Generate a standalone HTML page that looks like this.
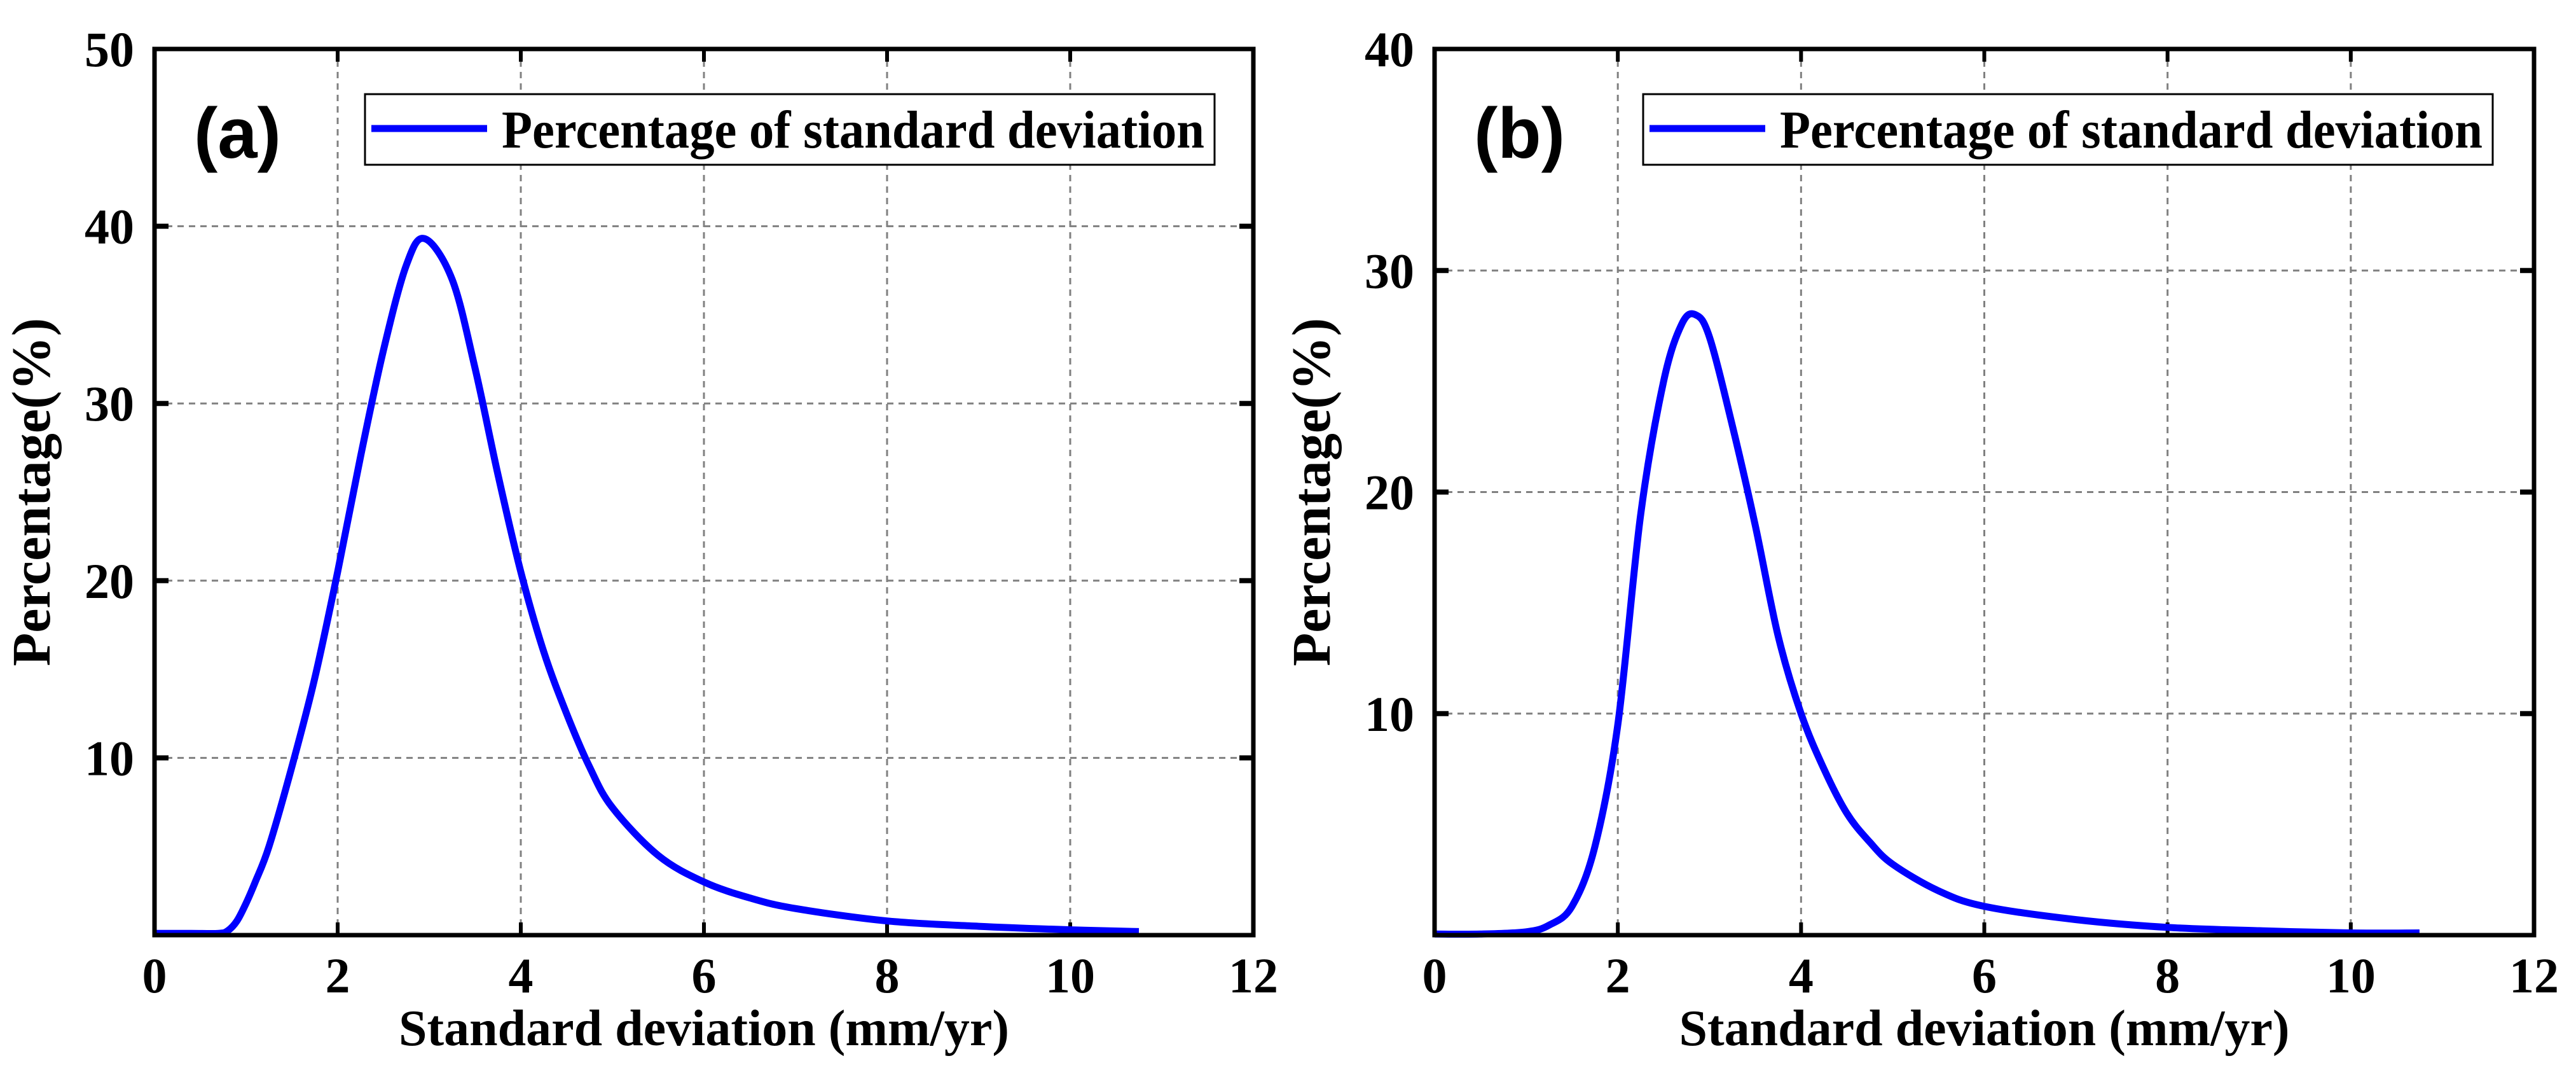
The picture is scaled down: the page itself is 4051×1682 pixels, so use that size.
<!DOCTYPE html>
<html><head><meta charset="utf-8"><style>
html,body{margin:0;padding:0;background:#fff;}
svg{display:block;}
text{font-family:"Liberation Serif",serif;font-weight:bold;fill:#000;}
.lab{font-family:"Liberation Sans",sans-serif;}
</style></head><body>
<svg id="chart" width="4051" height="1682" viewBox="0 0 4051 1682" xmlns="http://www.w3.org/2000/svg"></svg>
<script>
const xTicks = [0, 2, 4, 6, 8, 10, 12];
const yTicksA = [10, 20, 30, 40, 50];
const yTicksB = [10, 20, 30, 40];
const xsA = [0, 0.4, 0.7, 0.8, 0.9, 1, 1.1, 1.25, 1.5, 1.75, 2, 2.25, 2.5, 2.75, 2.95, 3.25, 3.5, 3.75, 4, 4.25, 4.5, 4.75, 5, 5.5, 6, 6.5, 7, 8, 9, 10, 10.75];
const ysA = [0.1, 0.1, 0.1, 0.25, 0.8, 1.8, 3, 5, 9.5, 14.5, 20.5, 27, 33, 37.8, 39.3, 37, 32, 26, 20.5, 16, 12.5, 9.5, 7.2, 4.5, 3, 2.1, 1.5, 0.8, 0.5, 0.3, 0.2];
const xsB = [0, 0.5, 1, 1.25, 1.5, 1.75, 2, 2.25, 2.5, 2.7, 2.85, 3, 3.25, 3.5, 3.75, 4, 4.25, 4.5, 4.75, 5, 5.5, 6, 7, 8, 9, 10, 10.75];
const ysB = [0.05, 0.05, 0.15, 0.45, 1.3, 4, 9.5, 19, 25, 27.6, 28, 27, 23, 18.5, 13.5, 10, 7.5, 5.5, 4.2, 3.2, 2, 1.3, 0.7, 0.35, 0.2, 0.1, 0.1];

const NS='http://www.w3.org/2000/svg';
const svg=document.getElementById('chart');
function mk(tag,attrs,parent){const e=document.createElementNS(NS,tag);for(const k in attrs)e.setAttribute(k,attrs[k]);(parent||svg).appendChild(e);return e;}

function panel(id,L,R,T,B,yMax,yTicks,xs,ys,label,legX){
  const g=mk('g',{});
  
  
  const sx=v=>L+(v-0)/(12-0)*(R-L);
  const sy=v=>B-(v/yMax)*(B-T);
  xTicks.forEach(t=>{ if(t>0&&t<12){
    const l=mk('line',{x1:sx(t),x2:sx(t),y1:T,y2:B,stroke:'#808080','stroke-width':3,'stroke-dasharray':'10,8'},g);
    
    
    mk('line',{x1:sx(t),x2:sx(t),y1:B,y2:B-20,stroke:'#000','stroke-width':6},g);
    mk('line',{x1:sx(t),x2:sx(t),y1:T,y2:T+20,stroke:'#000','stroke-width':6},g);
  }});
  yTicks.forEach(t=>{ if(t<yMax){
    const l=mk('line',{x1:L,x2:R,y1:sy(t),y2:sy(t),stroke:'#808080','stroke-width':3,'stroke-dasharray':'10,8'},g);
    
    
    mk('line',{x1:L,x2:L+22,y1:sy(t),y2:sy(t),stroke:'#000','stroke-width':8},g);
    mk('line',{x1:R,x2:R-22,y1:sy(t),y2:sy(t),stroke:'#000','stroke-width':8},g);
  }});
  const P=xs.map((x,i)=>[sx(x),sy(ys[i])]);
  let d='M'+P[0][0]+','+P[0][1];
  for(let i=0;i<P.length-1;i++){
    const p0=P[Math.max(0,i-1)],p1=P[i],p2=P[i+1],p3=P[Math.min(P.length-1,i+2)];
    const c1=[p1[0]+(p2[0]-p0[0])/6,p1[1]+(p2[1]-p0[1])/6];
    const c2=[p2[0]-(p3[0]-p1[0])/6,p2[1]-(p3[1]-p1[1])/6];
    d+=' C'+c1[0]+','+c1[1]+' '+c2[0]+','+c2[1]+' '+p2[0]+','+p2[1];
  }
  const c=mk('path',{d:d,fill:'none',stroke:'#0000ff','stroke-width':11,'stroke-linejoin':'round'},g);
  
  
  const f=mk('rect',{x:L,y:T,width:R-L,height:B-T,fill:'none',stroke:'#000','stroke-width':7},g);
  
  
  xTicks.forEach(t=>{
    const e=mk('text',{x:sx(t),y:1560,'font-size':78,'text-anchor':'middle'},g);
    e.textContent=t;
    
    
  });
  yTicks.forEach(t=>{
    const e=mk('text',{x:L-32,y:sy(t)+27,'font-size':78,'text-anchor':'end'},g);
    e.textContent=t;
    
    
  });
  const xt=mk('text',{x:(L+R)/2,y:1643,'font-size':80,'text-anchor':'middle'},g);
  xt.textContent='Standard deviation (mm/yr)';
  
  
  const yx=L-165, yc=(T+B)/2;
  const yt=mk('text',{x:yx,y:yc,'font-size':86,'text-anchor':'middle',transform:'rotate(-90 '+yx+' '+yc+')'},g);
  yt.textContent='Percentage(%)';
  
  
  const pl=mk('text',{x:L+62,y:248,'font-size':112,'class':'lab'},g);
  pl.textContent=label;
  
  
  const lg=mk('g',{},g);
  
  
  mk('rect',{x:legX,y:148,width:1336,height:111,fill:'#fff',stroke:'#000','stroke-width':3},lg);
  mk('line',{x1:legX+10,x2:legX+192,y1:202,y2:202,stroke:'#0000ff','stroke-width':11},lg);
  const lt=mk('text',{x:legX+215,y:232,'font-size':84,textLength:1105,lengthAdjust:'spacingAndGlyphs'},lg);
  lt.textContent='Percentage of standard deviation';
  
  
}
panel('a',243,1971,77,1470,50,yTicksA,xsA,ysA,'(a)',574);
panel('b',2256,3985,77,1470,40,yTicksB,xsB,ysB,'(b)',2584);
</script>
</body></html>
